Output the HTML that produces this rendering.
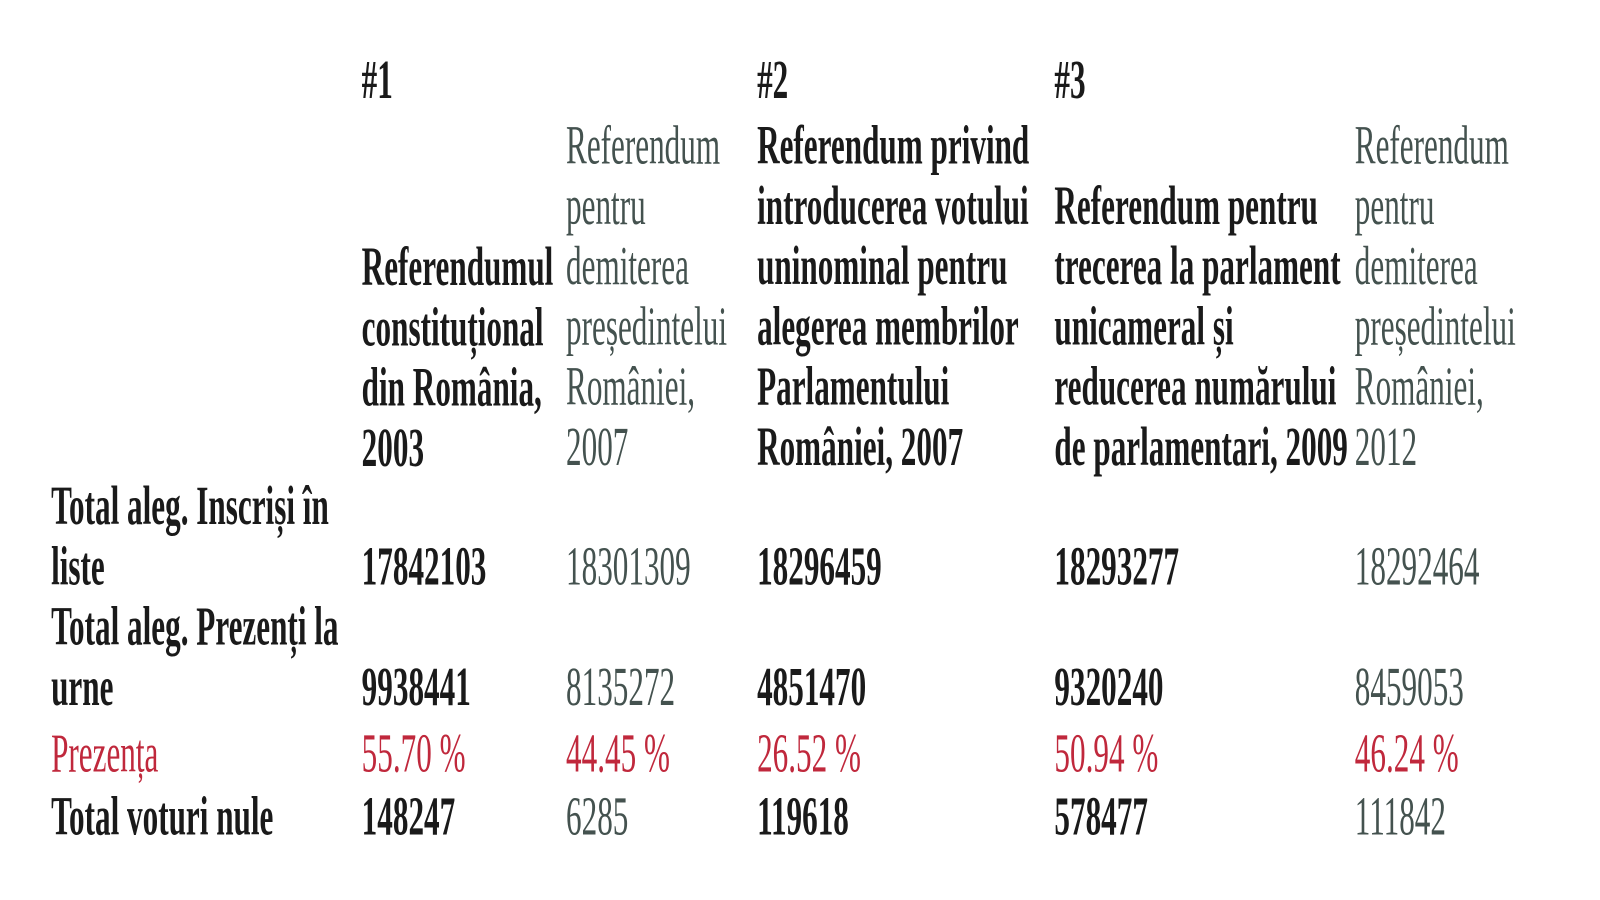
<!DOCTYPE html>
<html><head><meta charset="utf-8"><style>
body{margin:0;width:1600px;height:900px;background:#fff;overflow:hidden;position:relative}
#w{position:absolute;left:0;top:0;width:1566px;height:881px;transform:scale(1.0217);transform-origin:0 0}
.t{position:absolute;font-family:"Liberation Serif",serif;font-size:54px;line-height:58.9px;white-space:pre;transform:scaleX(0.565);transform-origin:0 0}
.b{font-weight:bold;color:#1a1a1a}
.g{color:#44524f}
.r{color:#c0283c}
</style></head><body><div id="w">
<div class="t b" style="left:354px;top:49px">#1</div>
<div class="t b" style="left:741px;top:49px">#2</div>
<div class="t b" style="left:1032px;top:49px">#3</div>

<div class="t b" style="left:354px;top:232px">Referendumul
constituțional
din România,
2003</div>
<div class="t g" style="left:554px;top:113px">Referendum
pentru
demiterea
președintelui
României,
2007</div>
<div class="t b" style="left:741px;top:113px">Referendum privind
introducerea votului
uninominal pentru
alegerea membrilor
Parlamentului
României, 2007</div>
<div class="t b" style="left:1032px;top:172px">Referendum pentru
trecerea la parlament
unicameral și
reducerea numărului
de parlamentari, 2009</div>
<div class="t g" style="left:1326px;top:113px">Referendum
pentru
demiterea
președintelui
României,
2012</div>

<div class="t b" style="left:50px;top:466px">Total aleg. Inscriși în
liste</div>
<div class="t b" style="left:50px;top:584px">Total aleg. Prezenți la
urne</div>
<div class="t r" style="left:50px;top:708px">Prezența</div>
<div class="t b" style="left:50px;top:770px">Total voturi nule</div>

<div class="t b" style="left:354px;top:525px">17842103</div>
<div class="t g" style="left:554px;top:525px">18301309</div>
<div class="t b" style="left:741px;top:525px">18296459</div>
<div class="t b" style="left:1032px;top:525px">18293277</div>
<div class="t g" style="left:1326px;top:525px">18292464</div>

<div class="t b" style="left:354px;top:643px">9938441</div>
<div class="t g" style="left:554px;top:643px">8135272</div>
<div class="t b" style="left:741px;top:643px">4851470</div>
<div class="t b" style="left:1032px;top:643px">9320240</div>
<div class="t g" style="left:1326px;top:643px">8459053</div>

<div class="t r" style="left:354px;top:708px">55.70 %</div>
<div class="t r" style="left:554px;top:708px">44.45 %</div>
<div class="t r" style="left:741px;top:708px">26.52 %</div>
<div class="t r" style="left:1032px;top:708px">50.94 %</div>
<div class="t r" style="left:1326px;top:708px">46.24 %</div>

<div class="t b" style="left:354px;top:770px">148247</div>
<div class="t g" style="left:554px;top:770px">6285</div>
<div class="t b" style="left:741px;top:770px">119618</div>
<div class="t b" style="left:1032px;top:770px">578477</div>
<div class="t g" style="left:1326px;top:770px">111842</div>
</div></body></html>
